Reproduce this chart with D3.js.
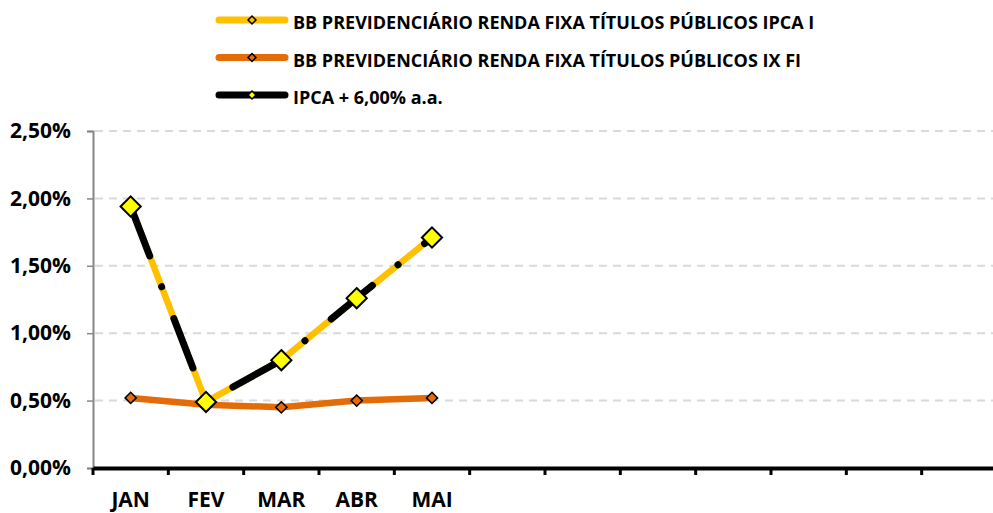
<!DOCTYPE html>
<html lang="pt">
<head>
<meta charset="UTF-8" />
<title>Rentabilidade mensal</title>
<script src="https://d3js.org/d3.v7.min.js"></script>
<style>
  body { margin: 0; background: #fff; }
  svg text { font-family: 'Open Sans', 'Liberation Sans', sans-serif; font-weight: bold; fill: #000; }
</style>
</head>
<body>
<svg id="chart" width="993" height="513"></svg>
<script>
// data
const months = ['JAN', 'FEV', 'MAR', 'ABR', 'MAI', 'JUN', 'JUL', 'AGO', 'SET', 'OUT', 'NOV', 'DEZ'];
const monthLabels = ['JAN', 'FEV', 'MAR', 'ABR', 'MAI', '', '', '', '', '', '', ''];
const ipcaI = [1.94, 0.49, 0.80, 1.26, 1.71];
const ixFi = [0.52, 0.47, 0.45, 0.50, 0.52];
const ipca6 = [1.94, 0.49, 0.80, 1.26, 1.71];
const yTicks = [0, 0.5, 1.0, 1.5, 2.0, 2.5];
const seriesNames = [
  'BB PREVIDENCIÁRIO RENDA FIXA TÍTULOS PÚBLICOS IPCA I',
  'BB PREVIDENCIÁRIO RENDA FIXA TÍTULOS PÚBLICOS IX FI',
  'IPCA + 6,00% a.a.'
];

const svg = d3.select('#chart');
const plot = { left: 93, right: 997, top: 131, bottom: 468 };

const x = d3.scaleBand().domain(months).range([plot.left, plot.right]).padding(0);
const y = d3.scaleLinear().domain([0, 2.5]).range([plot.bottom, plot.top]);
const fmt = (v) => v.toFixed(2).replace('.', ',') + '%';

// gridlines
svg.append('g')
  .selectAll('line')
  .data(yTicks.slice(1))
  .join('line')
  .attr('x1', plot.left + 2).attr('x2', 993)
  .attr('y1', (d) => y(d)).attr('y2', (d) => y(d))
  .attr('stroke', '#d9d9d9').attr('stroke-width', 2)
  .attr('stroke-dasharray', '8 6');

// y axis
const yAxis = svg.append('g')
  .attr('transform', `translate(${plot.left},0)`)
  .call(d3.axisLeft(y).tickValues(yTicks).tickFormat(fmt).tickSize(6).tickPadding(16));
yAxis.select('.domain').attr('stroke', '#868686').attr('stroke-width', 2);
yAxis.selectAll('.tick line').attr('stroke', '#868686').attr('stroke-width', 1.5);
yAxis.selectAll('.tick text').attr('font-size', 21).attr('fill', '#000');

// x axis
const xAxis = svg.append('g')
  .attr('transform', `translate(0,${plot.bottom})`)
  .call(d3.axisBottom(x).tickFormat((d, i) => monthLabels[i]).tickSize(0).tickPadding(24));
xAxis.select('.domain').attr('stroke', '#000').attr('stroke-width', 4);
xAxis.selectAll('.tick text').attr('font-size', 21);
svg.append('g')
  .selectAll('line')
  .data(months)
  .join('line')
  .attr('x1', (d) => x(d)).attr('x2', (d) => x(d))
  .attr('y1', plot.bottom).attr('y2', plot.bottom + 7)
  .attr('stroke', '#000').attr('stroke-width', 3);

const cx = (i) => x(months[i]) + x.bandwidth() / 2;
const line = d3.line().x((d, i) => cx(i)).y((d) => y(d));

// orange series
svg.append('path').datum(ixFi).attr('d', line)
  .attr('fill', 'none').attr('stroke', '#e36c09').attr('stroke-width', 6.5).attr('stroke-linejoin', 'round');
// yellow series
svg.append('path').datum(ipcaI).attr('d', line)
  .attr('fill', 'none').attr('stroke', '#ffc000').attr('stroke-width', 6.5).attr('stroke-linejoin', 'round');
// black series (dash-dot as it shows over the yellow one)
svg.append('path').datum(ipca6).attr('d', line)
  .attr('fill', 'none').attr('stroke', '#000').attr('stroke-width', 7)
  .attr('stroke-linecap', 'round').attr('stroke-dasharray', '53 33 0.1 34');

const diamond = (s) => d3.symbol().type(d3.symbolDiamond2).size(s);

svg.append('g').selectAll('path').data(ixFi).join('path')
  .attr('d', diamond(80))
  .attr('transform', (d, i) => `translate(${cx(i)},${y(d)})`)
  .attr('fill', '#e36c09').attr('stroke', '#000').attr('stroke-width', 1.5);

svg.append('g').selectAll('path').data(ipca6).join('path')
  .attr('d', diamond(260))
  .attr('transform', (d, i) => `translate(${cx(i)},${y(d)})`)
  .attr('fill', '#ffff00').attr('stroke', '#000').attr('stroke-width', 2);

// legend
const legendColors = ['#ffc000', '#e36c09', '#000'];
const markerFill = ['#ffc000', '#e36c09', '#ffff00'];
const legend = svg.append('g').selectAll('g').data(seriesNames).join('g')
  .attr('transform', (d, i) => `translate(0,${20 + i * 37.5})`);
legend.append('line')
  .attr('x1', 219).attr('x2', 285).attr('y1', 0).attr('y2', 0)
  .attr('stroke', (d, i) => legendColors[i]).attr('stroke-width', 7).attr('stroke-linecap', 'round');
legend.append('path')
  .attr('d', diamond(40))
  .attr('transform', 'translate(252,0)')
  .attr('fill', (d, i) => markerFill[i]).attr('stroke', '#000').attr('stroke-width', 1.5);
legend.append('text')
  .attr('x', 293).attr('y', 9)
  .attr('font-size', 18)
  .text((d) => d);
</script>
</body>
</html>
